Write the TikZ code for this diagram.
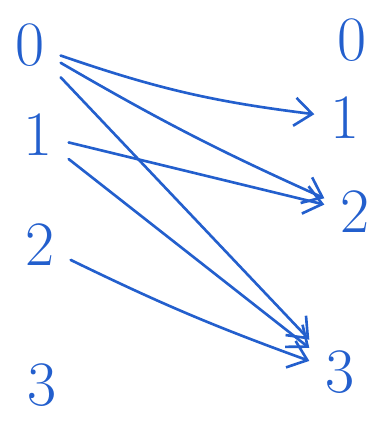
\documentclass[tikz,border=0pt]{standalone}
\usetikzlibrary{arrows.meta}
\definecolor{inkblue}{RGB}{35,95,205}
\begin{document}
\begin{tikzpicture}[x=0.02cm,y=-0.02cm,
  digit/.style={text=inkblue,font=\fontsize{36}{36}\selectfont,inner sep=9pt},
  arr/.style={inkblue,line width=1.5pt,line cap=round,-{Straight Barb[length=10pt,width=16pt]}}]
  \useasboundingbox (0,0) rectangle (375,421);
  % left column and right column
  \foreach \n/\lx/\ly/\rx/\ry in {0/30/45/352/40, 1/38/135/345/118,
                                  2/40/245/355/212, 3/42/385/340/372}{
    \node[digit] (l\n) at (\lx,\ly) {\n};
    \node[digit] (r\n) at (\rx,\ry) {\n};
  }
  \draw[arr] (l0) to[bend right=6] (r1);
  \draw[arr] (l0) to[bend right=3] (r2);
  \draw[arr] (l0) -- (r3);
  \draw[arr] (l1) -- (r2);
  \draw[arr] (l1) -- (r3);
  \draw[arr] (l2) to[bend right=3] (r3);
\end{tikzpicture}
\end{document}
